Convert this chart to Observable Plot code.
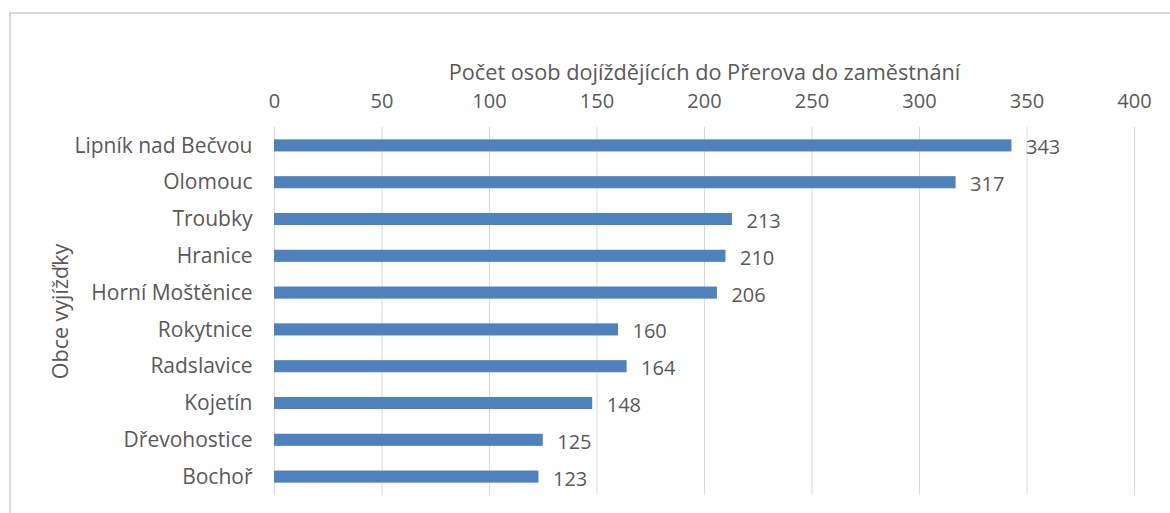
<!DOCTYPE html>
<html>
<head>
<meta charset="utf-8">
<script src="https://cdn.jsdelivr.net/npm/d3@7"></script>
<script src="https://cdn.jsdelivr.net/npm/@observablehq/plot@0.6"></script>
<style>
  html, body { margin: 0; padding: 0; background: #fff; }
  #wrap { position: relative; width: 1170px; height: 513px; overflow: hidden; }
  #frame { position: absolute; left: 9px; top: 12px; width: 1200px; height: 600px; border: 2px solid #d9d9d9; box-sizing: border-box; }
  #chart { position: absolute; left: 0; top: 0; }
  svg { font-family: "Open Sans", sans-serif; }
</style>
</head>
<body>
<div id="wrap"><div id="frame"></div><div id="chart"></div></div>
<script>
const categories = ["Lipník nad Bečvou", "Olomouc", "Troubky", "Hranice", "Horní Moštěnice", "Rokytnice", "Radslavice", "Kojetín", "Dřevohostice", "Bochoř"];
const values = [343, 317, 213, 210, 206, 160, 164, 148, 125, 123];
const xTicks = [0, 50, 100, 150, 200, 250, 300, 350, 400];
const xTitle = "Počet osob dojíždějících do Přerova do zaměstnání";
const yTitle = "Obce vyjížďky";

const data = categories.map((c, i) => ({obec: c, pocet: values[i]}));
const textColor = "#595959";

const chart = Plot.plot({
  width: 1170,
  height: 513,
  marginLeft: 274,
  marginRight: 36,
  marginTop: 127,
  marginBottom: 18,
  style: {fontSize: "20px", color: textColor, background: "transparent", fontFamily: "'Open Sans', sans-serif"},
  x: {domain: [0, 400]},
  y: {domain: categories, padding: 0, round: false},
  marks: [
    Plot.ruleX(xTicks, {stroke: "#d9d9d9", strokeWidth: 1}),
    Plot.barX(data, {x: "pocet", y: "obec", fill: "#4f81bd", insetTop: 12.35, insetBottom: 12.35}),
    Plot.text(data, {x: "pocet", y: "obec", text: d => String(d.pocet), textAnchor: "start", dx: 14, dy: 2, fill: textColor, fontSize: 20}),
    Plot.axisX({anchor: "top", ticks: xTicks, tickSize: 0, tickPadding: 20, label: null, fill: textColor, fontSize: 20}),
    Plot.axisY({anchor: "left", tickSize: 0, tickPadding: 22, label: null, fill: textColor, fontSize: 21}),
    Plot.text([xTitle], {frameAnchor: "top", dy: -63, fill: textColor, fontSize: 21.7}),
    Plot.text([yTitle], {frameAnchor: "left", textAnchor: "middle", dx: -213, rotate: -90, fill: textColor, fontSize: 21.5})
  ]
});
document.getElementById("chart").appendChild(chart);
</script>
</body>
</html>
